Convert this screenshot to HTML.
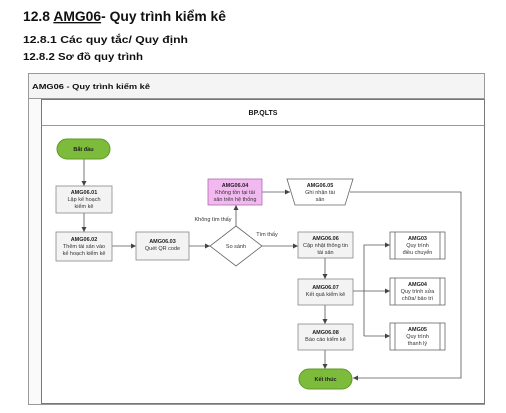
<!DOCTYPE html>
<html><head><meta charset="utf-8"><style>
html,body{margin:0;padding:0;background:#fff;width:506px;height:413px;overflow:hidden}
svg{display:block}
text{font-family:"Liberation Sans",sans-serif}
.h{font-weight:bold;fill:#111}
.n{font-size:5.5px;fill:#333;text-anchor:middle}
.b{font-size:5.5px;font-weight:bold;fill:#222;text-anchor:middle}
.box{fill:#f3f3f3;stroke:#888;stroke-width:0.8}
.ln{stroke:#555;stroke-width:0.8;fill:none}
</style></head><body>
<svg width="506" height="413" viewBox="0 0 506 413">
<defs><marker id="a" markerWidth="6" markerHeight="6" refX="5" refY="3" orient="auto" markerUnits="userSpaceOnUse"><path d="M0,0.5 L5,3 L0,5.5z" fill="#444"/></marker></defs>
<text x="23" y="21" class="h" font-size="13.5" textLength="203" lengthAdjust="spacingAndGlyphs">12.8  <tspan text-decoration="underline">AMG06</tspan>- Quy trình kiểm kê</text>
<text x="23" y="43" class="h" font-size="10.5" textLength="165" lengthAdjust="spacingAndGlyphs">12.8.1 Các quy tắc/ Quy định</text>
<text x="23" y="60" class="h" font-size="10.5" textLength="120" lengthAdjust="spacingAndGlyphs">12.8.2 Sơ đồ quy trình</text>
<rect x="28.5" y="73.5" width="456" height="331" fill="#fafafa" stroke="#999"/>
<rect x="28.5" y="73.5" width="456" height="25" fill="#f4f4f4" stroke="#999"/>
<text x="32" y="89" font-size="7" font-weight="bold" fill="#111" textLength="118" lengthAdjust="spacingAndGlyphs">AMG06 - Quy trình kiểm kê</text>
<rect x="41.5" y="99.5" width="443" height="304" fill="#fff" stroke="#777"/>
<line x1="41.5" y1="125.5" x2="484.5" y2="125.5" stroke="#999"/>
<text x="263" y="115" font-size="7" font-weight="bold" fill="#111" text-anchor="middle">BP.QLTS</text>
<path class="ln" d="M84,159 V186" marker-end="url(#a)"/>
<path class="ln" d="M84,213 V232" marker-end="url(#a)"/>
<path class="ln" d="M112,246 H136" marker-end="url(#a)"/>
<path class="ln" d="M189,246 H210" marker-end="url(#a)"/>
<path class="ln" d="M236,226 V205" marker-end="url(#a)"/>
<path class="ln" d="M262,192 H290" marker-end="url(#a)"/>
<path class="ln" d="M262,246 H298" marker-end="url(#a)"/>
<path class="ln" d="M325,258 V279" marker-end="url(#a)"/>
<path class="ln" d="M325,305 V324" marker-end="url(#a)"/>
<path class="ln" d="M325,350 V369" marker-end="url(#a)"/>
<path class="ln" d="M353,291 H390" marker-end="url(#a)"/>
<path class="ln" d="M364,336 V245 H390" marker-end="url(#a)"/>
<path class="ln" d="M364,336 H390" marker-end="url(#a)"/>
<path class="ln" d="M350,192 H461 V378 H353" marker-end="url(#a)"/>
<rect x="57" y="139" width="53" height="20" rx="10" fill="#7dbb3a" stroke="#5e9a2a"/>
<text x="83.5" y="151" class="b">Bắt đầu</text>
<rect class="box" x="56" y="186" width="56" height="27"/>
<text x="84" y="194" class="b">AMG06.01</text><text x="84" y="201" class="n">Lập kế hoạch</text><text x="84" y="208" class="n">kiểm kê</text>
<rect class="box" x="56" y="232" width="56" height="29"/>
<text x="84" y="241" class="b">AMG06.02</text><text x="84" y="248" class="n">Thêm tài sản vào</text><text x="84" y="255" class="n">kế hoạch kiểm kê</text>
<rect class="box" x="136" y="232" width="53" height="28"/>
<text x="162.5" y="243" class="b">AMG06.03</text><text x="162.5" y="250" class="n">Quét QR code</text>
<polygon points="236,226 262,246 236,266 210,246" fill="#fff" stroke="#666" stroke-width="0.8"/>
<text x="236" y="248" class="n">So sánh</text>
<text x="213" y="221" class="n">Không tìm thấy</text>
<text x="267" y="236" class="n">Tìm thấy</text>
<rect x="208" y="179" width="54" height="26" fill="#f2b8f0" stroke="#b06ab0" stroke-width="0.8"/>
<text x="235" y="187" class="b">AMG06.04</text><text x="235" y="194" class="n">Không tồn tại tài</text><text x="235" y="201" class="n">sản trên hệ thống</text>
<polygon points="287,179 353,179 345,205 295,205" fill="#fff" stroke="#666" stroke-width="0.8"/>
<text x="320" y="187" class="b">AMG06.05</text><text x="320" y="194" class="n">Ghi nhận tài</text><text x="320" y="201" class="n">sản</text>
<rect class="box" x="298" y="232" width="55" height="26"/>
<text x="325.5" y="240" class="b">AMG06.06</text><text x="325.5" y="247" class="n">Cập nhật thông tin</text><text x="325.5" y="254" class="n">tài sản</text>
<rect class="box" x="298" y="279" width="55" height="26"/>
<text x="325.5" y="289" class="b">AMG06.07</text><text x="325.5" y="296" class="n">Kết quả kiểm kê</text>
<rect class="box" x="298" y="324" width="55" height="26"/>
<text x="325.5" y="334" class="b">AMG06.08</text><text x="325.5" y="341" class="n">Báo cáo kiểm kê</text>
<rect x="299" y="369" width="53" height="20" rx="10" fill="#7dbb3a" stroke="#5e9a2a"/>
<text x="325.5" y="381" class="b">Kết thúc</text>
<g fill="#fff" stroke="#666" stroke-width="0.8">
<rect x="390" y="232" width="55" height="27"/><line x1="395" y1="232" x2="395" y2="259"/><line x1="440" y1="232" x2="440" y2="259"/>
<rect x="390" y="278" width="55" height="27"/><line x1="395" y1="278" x2="395" y2="305"/><line x1="440" y1="278" x2="440" y2="305"/>
<rect x="390" y="323" width="55" height="27"/><line x1="395" y1="323" x2="395" y2="350"/><line x1="440" y1="323" x2="440" y2="350"/>
</g>
<text x="417.5" y="240" class="b">AMG03</text><text x="417.5" y="247" class="n">Quy trình</text><text x="417.5" y="254" class="n">điều chuyển</text>
<text x="417.5" y="286" class="b">AMG04</text><text x="417.5" y="293" class="n">Quy trình sửa</text><text x="417.5" y="300" class="n">chữa/ bảo trì</text>
<text x="417.5" y="331" class="b">AMG05</text><text x="417.5" y="338" class="n">Quy trình</text><text x="417.5" y="345" class="n">thanh lý</text>
</svg>
</body></html>
